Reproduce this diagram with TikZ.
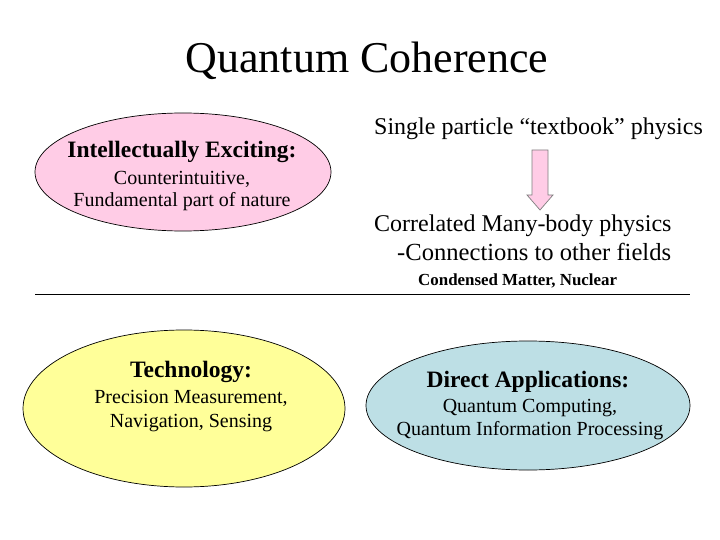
\documentclass[tikz,border=0pt]{standalone}
\usepackage{fontspec}
\setmainfont{Liberation Serif}
\usetikzlibrary{shapes.geometric}
\definecolor{pinkfill}{HTML}{FFCCE6}
\definecolor{yellowfill}{HTML}{FFFF99}
\definecolor{bluefill}{HTML}{BDDFE5}
\definecolor{arrowline}{HTML}{7F7F7F}
\newcommand{\fs}[1]{\fontsize{#1}{#1}\selectfont}
\begin{document}
\begin{tikzpicture}[x=1pt,y=1pt,
  oval/.style={ellipse,draw=black,line width=0.7pt,inner sep=0pt},
  txt/.style={inner sep=0pt,anchor=base},
  txtl/.style={inner sep=0pt,anchor=base west},
  head/.style={txt,font=\fs{23.5}\bfseries},
  body/.style={txt,font=\fs{20}},
  big/.style={font=\fs{24}}]
\useasboundingbox (0,0) rectangle (720,-540);
\fill[white] (0,0) rectangle (720,-540);

% title
\node[txt,font=\fs{44}] (title) at (367,-73) {Quantum Coherence};

% pink ellipse
\node[oval,fill=pinkfill,minimum width=296pt,minimum height=118pt] (pink) at (183,-172) {};
\node[head] (p1) at (182,-158) {Intellectually Exciting:};
\node[body] (p2) at (182,-185) {Counterintuitive,};
\node[body] (p3) at (182,-207) {Fundamental part of nature};

% right texts
\node[txtl,big] (single) at (374,-135) {Single particle “textbook” physics};
\node[txtl,big] (corr) at (374,-232) {Correlated Many-body physics};
\node[txtl,font=\fs{24.6}] (conn) at (397,-260) {-Connections to other fields};
\node[txtl,font=\fs{16.9}\bfseries] (cond) at (418,-285) {Condensed Matter, Nuclear};

% block arrow
\coordinate (atop) at (540,-150);
\coordinate (atip) at (540,-210);
\draw[arrowline,fill=pinkfill,line width=0.7pt,line join=miter]
  ([xshift=-8pt]atop) -- ([xshift=8pt]atop) -- (548,-195) -- (553,-195)
  -- (atip) -- (527,-195) -- (532,-195) -- cycle;

% separator
\coordinate (l1) at (35,-294);
\coordinate (l2) at (690,-294);
\draw[line width=0.8pt] (l1) -- (l2);

% yellow ellipse
\node[oval,fill=yellowfill,minimum width=322pt,minimum height=157pt] (yellow) at (184,-408.5) {};
\node[head] (y1) at (191,-377) {Technology:};
\node[body] (y2) at (191,-403) {Precision Measurement,};
\node[body] (y3) at (191,-427) {Navigation, Sensing};

% blue ellipse
\node[oval,fill=bluefill,minimum width=324pt,minimum height=129pt] (blue) at (528,-405.5) {};
\node[head] (b1) at (528,-387) {Direct Applications:};
\node[body] (b2) at (530,-412) {Quantum Computing,};
\node[body] (b3) at (530,-435) {Quantum Information Processing};
\end{tikzpicture}
\end{document}
